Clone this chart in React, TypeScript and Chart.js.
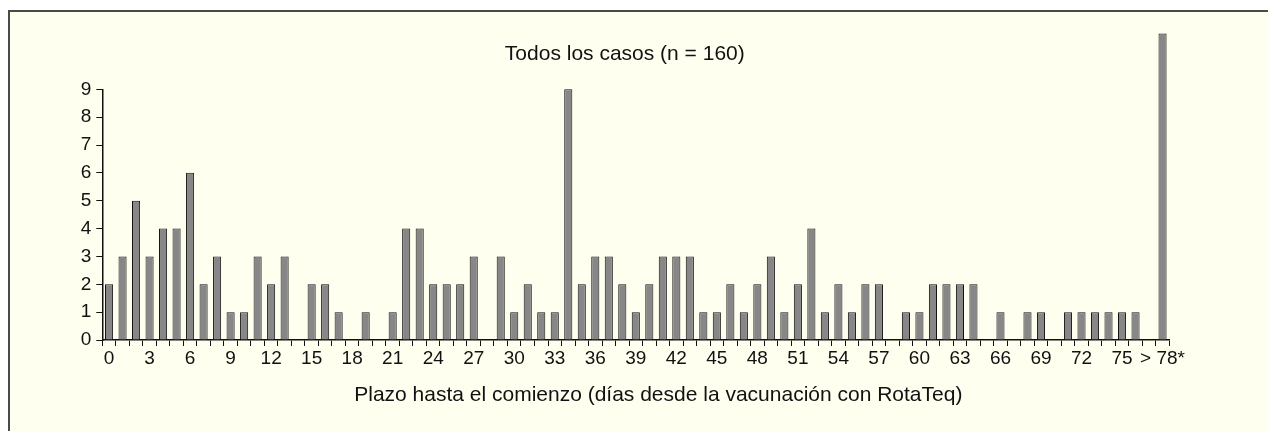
import { useEffect, useRef } from 'react';
import { Chart, registerables } from 'chart.js';

Chart.register(...registerables);

// Category labels (days since vaccination); the last class is "> 78*"
const dayLabels = [
  '0', '1', '2', '3', '4', '5', '6', '7', '8', '9',
  '10', '11', '12', '13', '14', '15', '16', '17', '18', '19',
  '20', '21', '22', '23', '24', '25', '26', '27', '28', '29',
  '30', '31', '32', '33', '34', '35', '36', '37', '38', '39',
  '40', '41', '42', '43', '44', '45', '46', '47', '48', '49',
  '50', '51', '52', '53', '54', '55', '56', '57', '58', '59',
  '60', '61', '62', '63', '64', '65', '66', '67', '68', '69',
  '70', '71', '72', '73', '74', '75', '76', '77', '> 78*',
];

// Number of cases per day
const caseCounts = [
  2, 3, 5, 3, 4, 4, 6, 2, 3, 1,
  1, 3, 2, 3, 0, 2, 2, 1, 0, 1,
  0, 1, 4, 4, 2, 2, 2, 3, 0, 3,
  1, 2, 1, 1, 9, 2, 3, 3, 2, 1,
  2, 3, 3, 3, 1, 1, 2, 1, 2, 3,
  1, 2, 4, 1, 2, 1, 2, 2, 0, 1,
  1, 2, 2, 2, 2, 0, 1, 0, 1, 1,
  0, 1, 1, 1, 1, 1, 1, 0, 11,
];

const yTicks = [0, 1, 2, 3, 4, 5, 6, 7, 8, 9];
const xLabelEvery = 3;

const chartTitle = 'Todos los casos (n = 160)';
const xAxisTitle = 'Plazo hasta el comienzo (días desde la vacunación con RotaTeq)';

const FONT = '"Liberation Sans", Arial, Helvetica, sans-serif';

const captionsPlugin = {
  id: 'captions',
  afterDraw(chart: any) {
    const { ctx, chartArea } = chart;
    const mid = (chartArea.left + chartArea.right) / 2;
    ctx.save();
    ctx.fillStyle = '#111';
    ctx.font = `21px ${FONT}`;
    ctx.textAlign = 'center';
    ctx.textBaseline = 'alphabetic';
    ctx.fillText(chartTitle, mid - 11, chartArea.top - 29);
    ctx.fillText(xAxisTitle, mid + 22.5, chartArea.bottom + 61);
    ctx.restore();
  },
};

export default function App() {
  const canvasRef = useRef<HTMLCanvasElement | null>(null);

  useEffect(() => {
    const canvas = canvasRef.current;
    if (!canvas) return;
    const chart = new Chart(canvas, {
      type: 'bar',
      data: {
        labels: dayLabels,
        datasets: [
          {
            data: caseCounts,
            backgroundColor: '#878787',
            borderColor: '#111',
            borderWidth: 1,
            barPercentage: 0.6,
            categoryPercentage: 1.0,
            clip: false as any,
          },
        ],
      },
      plugins: [captionsPlugin],
      options: {
        responsive: false,
        animation: false,
        events: [],
        devicePixelRatio: 1,
        layout: { padding: { top: 89.3, right: 98.7, bottom: 0, left: 0 } },
        plugins: {
          legend: { display: false },
          title: { display: false },
          tooltip: { enabled: false },
        },
        scales: {
          x: {
            offset: true,
            grid: {
              display: true,
              offset: true,
              drawOnChartArea: false,
              drawTicks: true,
              tickLength: 6,
              color: '#111',
              lineWidth: 1,
            },
            border: { display: true, color: '#111', width: 1.5 },
            ticks: {
              autoSkip: false,
              maxRotation: 0,
              minRotation: 0,
              padding: 1,
              color: '#111',
              font: { family: FONT, size: 19 },
              callback: (_v: any, i: number) => (i % xLabelEvery === 0 ? dayLabels[i] : ''),
            },
            afterFit: (scale: any) => {
              scale.height = 91;
            },
          },
          y: {
            min: yTicks[0],
            max: yTicks[yTicks.length - 1],
            grid: {
              display: true,
              drawOnChartArea: false,
              drawTicks: true,
              tickLength: 6,
              color: '#111',
              lineWidth: 1,
            },
            border: { display: true, color: '#111', width: 1.5 },
            afterBuildTicks: (scale: any) => {
              scale.ticks = yTicks.map((v) => ({ value: v }));
            },
            ticks: {
              padding: 5,
              color: '#111',
              font: { family: FONT, size: 19 },
            },
            afterFit: (scale: any) => {
              scale.width = 102.3;
            },
          },
        },
      },
    });
    return () => chart.destroy();
  }, []);

  return (
    <>
      <div
        style={{
          position: 'absolute',
          left: 8,
          top: 10,
          width: 1260,
          height: 421,
          boxSizing: 'border-box',
          borderTop: '2px solid #4a4a4a',
          borderLeft: '2px solid #4a4a4a',
          background: '#FFFFF0',
        }}
      />
      <canvas
        ref={canvasRef}
        width={1268}
        height={431}
        style={{ position: 'absolute', left: 0, top: 0, width: 1268, height: 431 }}
      />
    </>
  );
}
